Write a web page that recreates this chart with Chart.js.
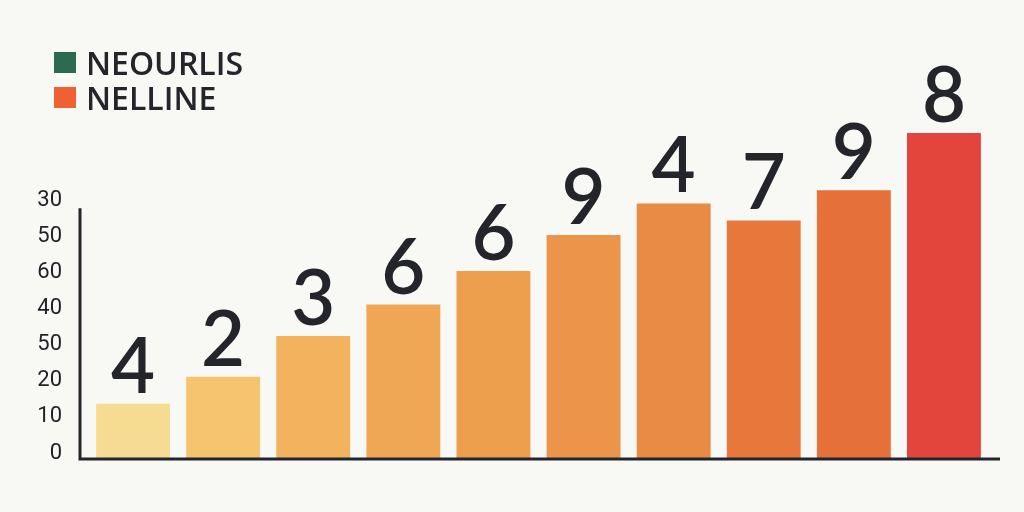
<!DOCTYPE html>
<html>
<head>
<meta charset="utf-8">
<script src="https://cdn.jsdelivr.net/npm/chart.js@4"></script>
<style>
  html, body { margin: 0; padding: 0; background: #f8f8f4; }
  #wrap { position: relative; width: 1024px; height: 512px; }
  #legend { position: absolute; left: 54px; top: 45px; font-family: "Open Sans", Lato, sans-serif; font-weight: 600; font-size: 32px; color: #23252b; }
  #legend div { display: flex; align-items: center; height: 35px; }
  #legend span.box { display: inline-block; width: 22px; height: 21px; margin-right: 10px; }
</style>
</head>
<body>
<div id="wrap">
  <canvas id="chart" width="1024" height="512"></canvas>
  <div id="legend"></div>
</div>
<script>
const barLabels = ["4", "2", "3", "6", "6", "9", "4", "7", "9", "8"];
const values = [15, 22.5, 33.8, 42.5, 51.8, 61.8, 70.5, 65.8, 74.2, 90];
const barColors = ["#f6dc93", "#f5c46f", "#f2b25e", "#f0a755", "#ee9f4e",
                   "#ec9449", "#ea8b45", "#e8773b", "#e67039", "#e3443c"];
const tickValues = [0, 10, 20, 30, 40, 50, 60, 70];
const tickLabels = ["0", "10", "20", "50", "40", "60", "50", "30"];
const legendNames = ["NEOURLIS", "NELLINE"];
const legendColors = ["#2c6b50", "#ef6035"];

// html legend
const legendEl = document.getElementById("legend");
legendNames.forEach((name, i) => {
  const row = document.createElement("div");
  const box = document.createElement("span");
  box.className = "box";
  box.style.background = legendColors[i];
  row.appendChild(box);
  row.appendChild(document.createTextNode(name));
  legendEl.appendChild(row);
});

// numbers over the bars
const barNumbers = {
  id: "barNumbers",
  afterDatasetsDraw(chart) {
    const ctx = chart.ctx;
    const meta = chart.getDatasetMeta(0);
    ctx.save();
    ctx.fillStyle = "#23252b";
    ctx.font = "600 76px Lato, 'Open Sans', sans-serif";
    ctx.textAlign = "center";
    ctx.textBaseline = "alphabetic";
    meta.data.forEach((bar, i) => {
      ctx.fillText(chart.data.labels[i], bar.x, bar.y - 11);
    });
    ctx.restore();
  }
};

// L shaped axis lines
const axisLines = {
  id: "axisLines",
  afterDatasetsDraw(chart) {
    const ctx = chart.ctx;
    const area = chart.chartArea;
    const y = chart.scales.y;
    const y0 = y.getPixelForValue(0);
    const yTop = y.getPixelForValue(tickValues[tickValues.length - 1]);
    ctx.save();
    ctx.strokeStyle = "#23252b";
    ctx.lineWidth = 3;
    ctx.beginPath();
    ctx.moveTo(area.left - 8, yTop + 3);
    ctx.lineTo(area.left - 8, y0 + 1);
    ctx.moveTo(area.left - 9.5, y0 + 1);
    ctx.lineTo(area.right + 11, y0 + 1);
    ctx.stroke();
    ctx.restore();
  }
};

new Chart(document.getElementById("chart"), {
  type: "bar",
  data: {
    labels: barLabels,
    datasets: [{
      data: values,
      backgroundColor: barColors,
      borderWidth: 0,
      categoryPercentage: 1,
      barPercentage: 0.82,
    }],
  },
  options: {
    responsive: false,
    animation: false,
    layout: { padding: { top: 97, bottom: 54, left: 0, right: 35 } },
    plugins: {
      legend: { display: false },
      tooltip: { enabled: false },
    },
    scales: {
      x: { display: false },
      y: {
        min: 0,
        max: 100,
        afterFit(scale) { scale.width = 88; },
        afterBuildTicks(scale) {
          scale.ticks = tickValues.map((v) => ({ value: v }));
        },
        grid: { display: false, drawTicks: false },
        border: { display: false },
        ticks: {
          padding: 26,
          labelOffset: -5,
          color: "#1f2126",
          font: { family: "'Liberation Sans Narrow', 'Roboto', sans-serif", size: 22 },
          callback: (v) => tickLabels[tickValues.indexOf(v)],
        },
      },
    },
  },
  plugins: [barNumbers, axisLines],
});
</script>
</body>
</html>
